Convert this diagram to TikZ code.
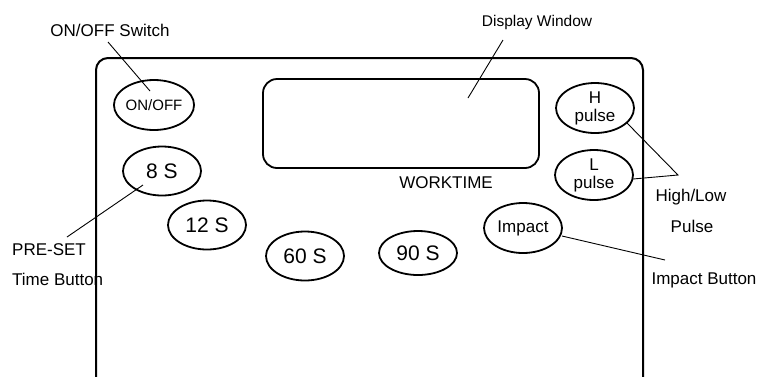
\documentclass[tikz,border=0pt]{standalone}
\usepackage{fontspec}
\setmainfont{Liberation Sans}
\usetikzlibrary{shapes.geometric}
\tikzset{
  btn/.style={draw, line width=1.8pt, ellipse, inner sep=0pt, minimum width=78pt, minimum height=49pt, align=center},
  lbl/.style={inner sep=0pt, font=\fontsize{17}{19}\selectfont},
  leader/.style={line width=0.9pt},
  frame/.style={line width=2pt, rounded corners=12pt},
}
\begin{document}
\begin{tikzpicture}[x=1pt,y=-1pt]
\useasboundingbox (0,0) rectangle (763,376);
\clip (0,0) rectangle (763,376);
\fill[white] (0,0) rectangle (763,376);
% outer casing
\draw[frame] (96,58) rectangle (643,392);
% display window
\node[draw, line width=1.8pt, rounded corners=14pt, minimum width=276pt, minimum height=89pt, inner sep=0pt] (disp) at (401,123.5) {};
\node[lbl] (work) at (446,183) {WORKTIME};
% buttons
\node[btn, font=\fontsize{15}{17}\selectfont, minimum width=77pt, minimum height=50pt] (onoff) at (154,105) {ON/OFF};
\node[btn, font=\fontsize{21}{23}\selectfont] (s8) at (162,171) {8 S};
\node[btn, font=\fontsize{21}{23}\selectfont] (s12) at (207,225) {12 S};
\node[btn, font=\fontsize{21}{23}\selectfont] (s60) at (305,256) {60 S};
\node[btn, font=\fontsize{21}{23}\selectfont, minimum height=44pt] (s90) at (418,253) {90 S};
\node[btn, font=\fontsize{17}{19}\selectfont, minimum height=50pt] (impact) at (523,228) {Impact};
\node[btn, font=\fontsize{17}{19}\selectfont, minimum height=50pt] (hp) at (595,108) {H\\[-1pt]pulse};
\node[btn, font=\fontsize{17}{19}\selectfont, minimum height=50pt] (lp) at (594,175) {L\\[-1pt]pulse};
% labels
\node[lbl] (onofflbl) at (110,30) {ON/OFF Switch};
\node[lbl, font=\fontsize{15.5}{18}\selectfont] (displbl) at (537,22) {Display Window};
\node[lbl, anchor=west] (pre1) at (12,250) {PRE-SET};
\node[lbl, anchor=west] (pre2) at (12,279) {Time Button};
\node[lbl] (hl1) at (691,197) {High/Low};
\node[lbl] (hl2) at (692,226) {Pulse};
\node[lbl] (implbl) at (704,280) {Impact Button};
% leader end points
\coordinate (a1) at (108,42);
\coordinate (a2) at (150,91);
\coordinate (b1) at (503,40);
\coordinate (b2) at (468,98);
\coordinate (c1) at (143,185);
\coordinate (c2) at (67,237);
\coordinate (d0) at (678,175);
\coordinate (d1) at (627,123);
\coordinate (d2) at (633,179);
\coordinate (e1) at (562,236);
\coordinate (e2) at (665,260);
% leaders
\draw[leader] (a1) -- (a2);
\draw[leader] (b1) -- (b2);
\draw[leader] (c1) -- (c2);
\draw[leader] (d1) -- (d0) -- (d2);
\draw[leader] (e1) -- (e2);
\end{tikzpicture}
\end{document}
